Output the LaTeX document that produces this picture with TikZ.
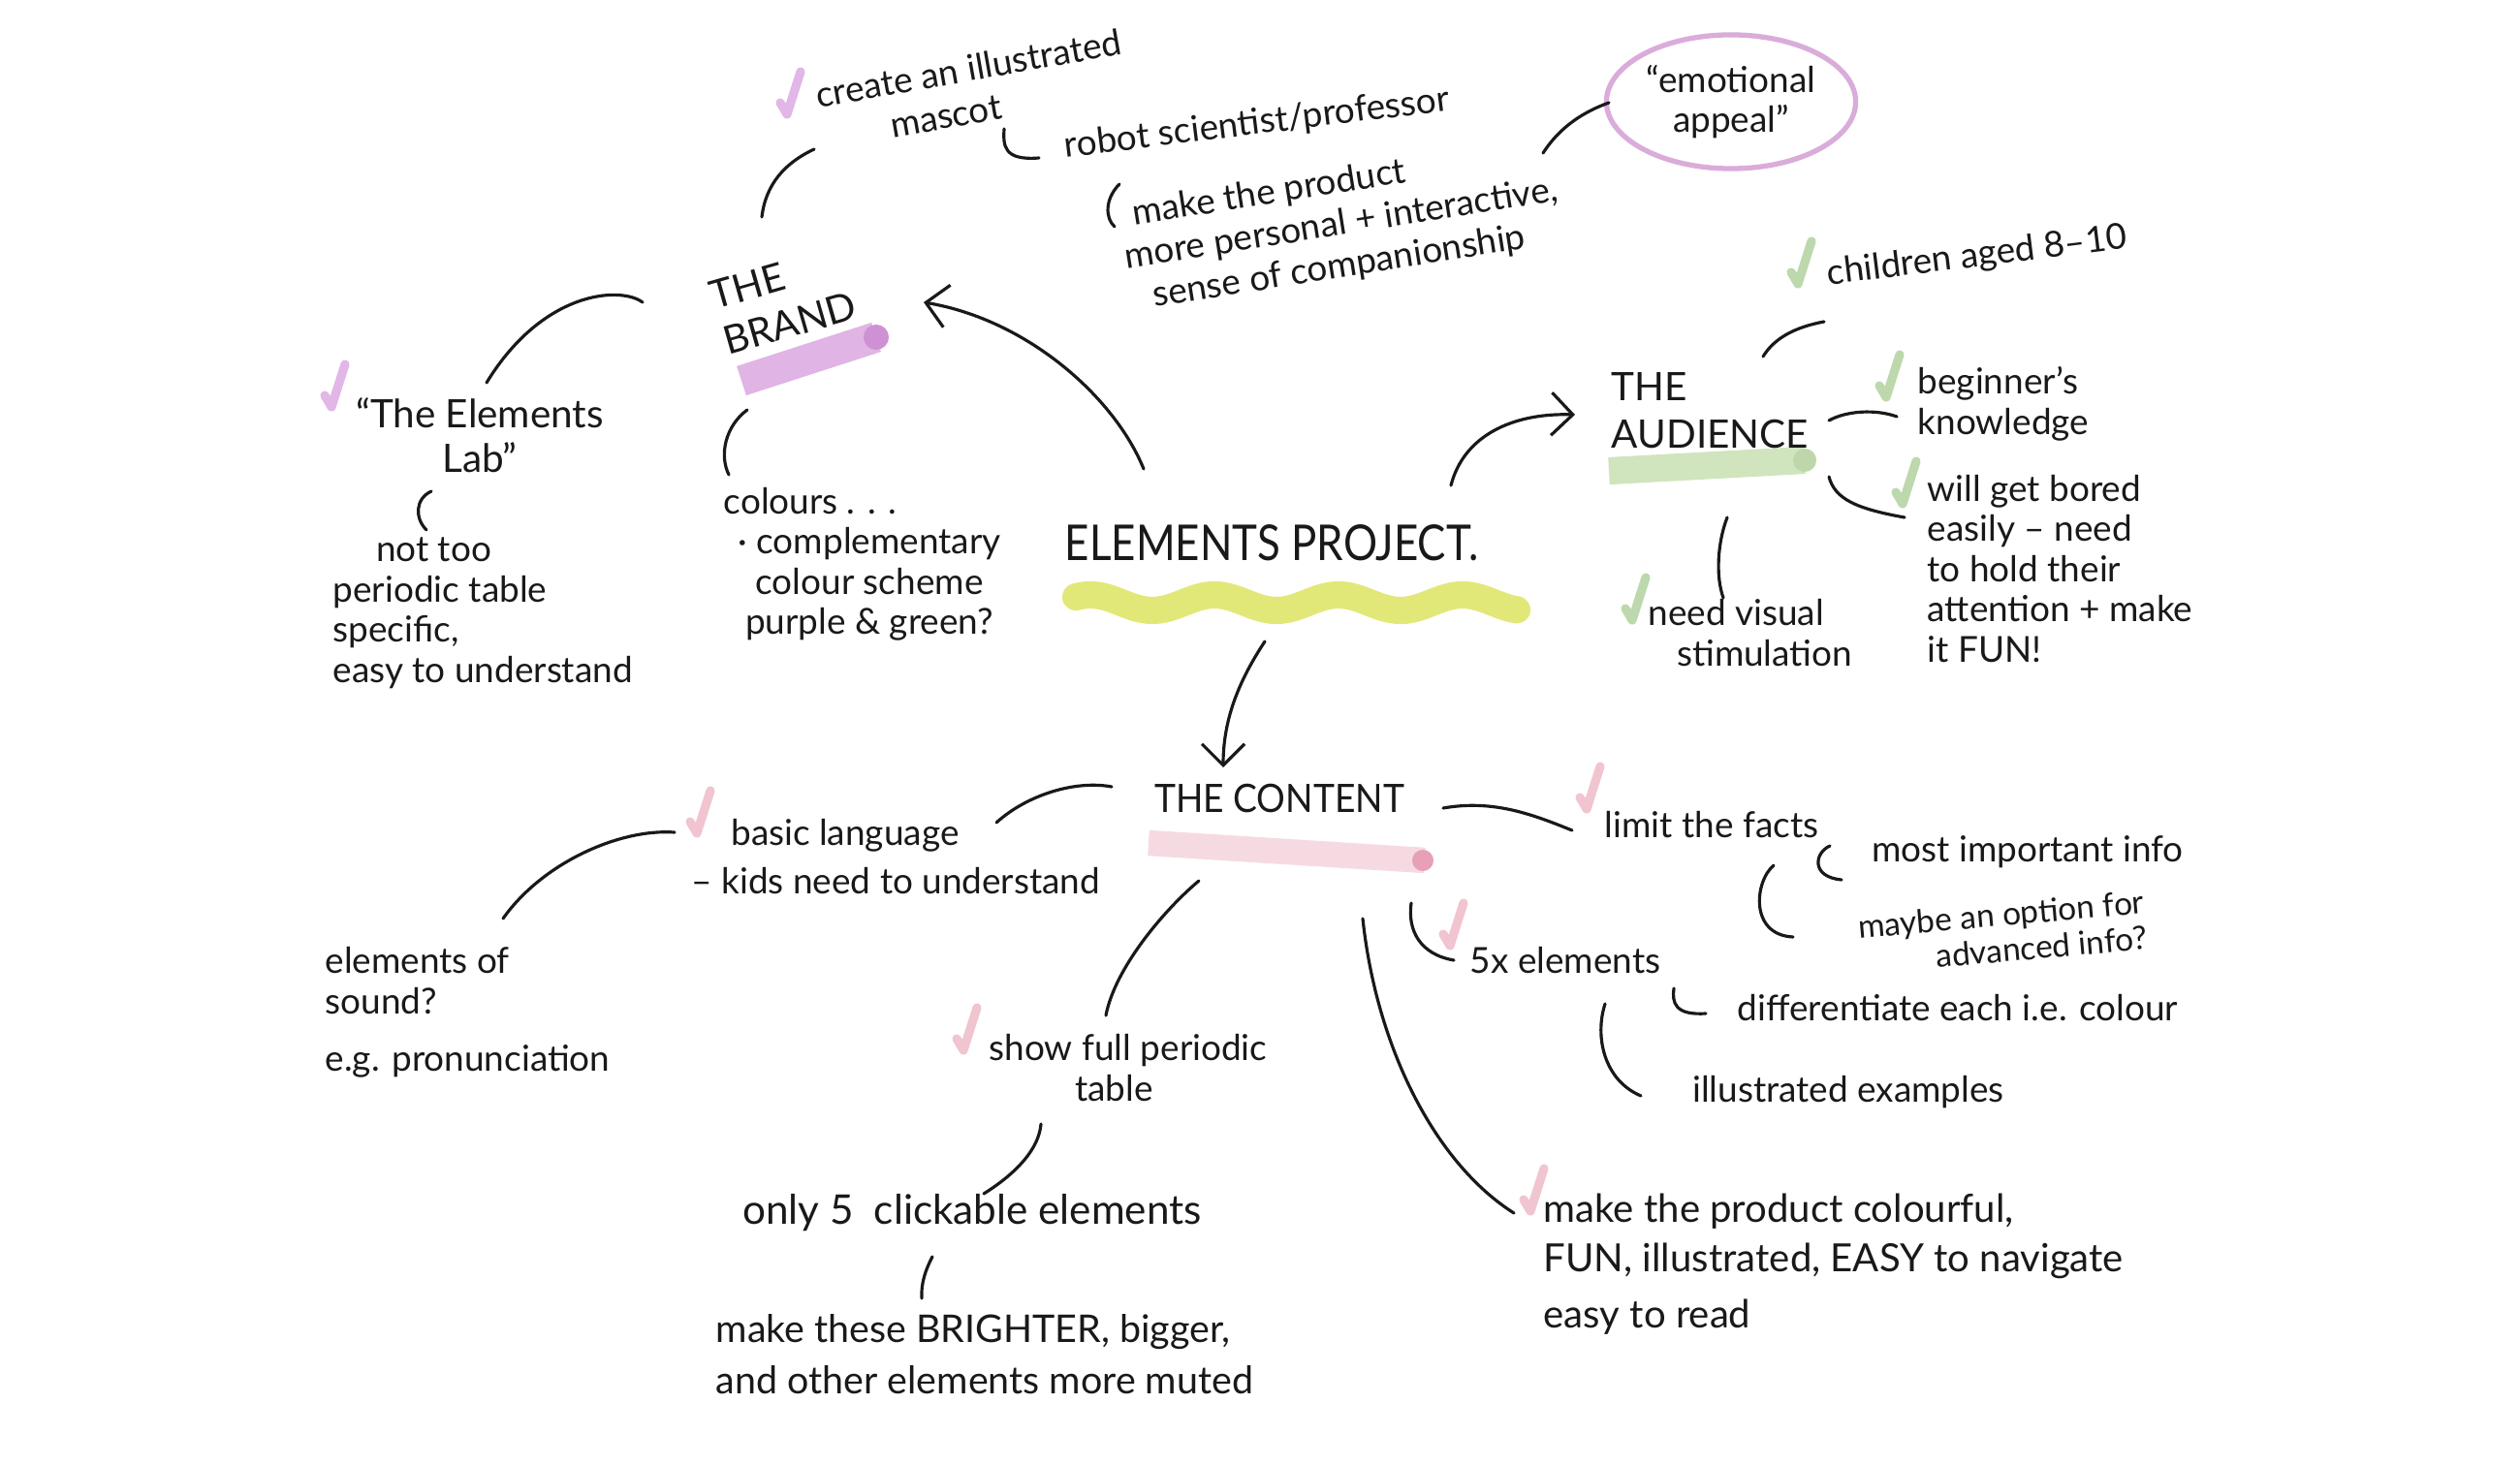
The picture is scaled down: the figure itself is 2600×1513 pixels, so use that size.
\documentclass[tikz,border=0pt]{standalone}
\usepackage{fontspec}
\setmainfont{Lato}
\usetikzlibrary{arrows.meta,shapes.geometric}
\definecolor{ink}{RGB}{25,25,25}
\definecolor{brandpink}{RGB}{224,180,228}
\definecolor{brandpinkdark}{RGB}{206,145,212}
\definecolor{audgreen}{RGB}{208,228,190}
\definecolor{audgreendark}{RGB}{190,215,170}
\definecolor{chkgreen}{RGB}{178,210,158}
\definecolor{contpink}{RGB}{246,218,226}
\definecolor{contpinkdark}{RGB}{232,160,182}
\definecolor{chkpink}{RGB}{238,188,200}
\definecolor{chkpurple}{RGB}{222,170,226}
\definecolor{yelhl}{RGB}{226,232,120}
\definecolor{emopink}{RGB}{218,172,218}
\tikzset{
  x=0.01cm, y=0.01cm,
  txt/.style={font=\fontsize{10.5}{11.8}\selectfont, text=ink, inner sep=0pt, align=left},
  head/.style={font=\fontsize{11.5}{14}\selectfont, text=ink, inner sep=0pt, align=left},
  conn/.style={draw=ink, line width=0.9pt, line cap=round},
  arr/.style={conn, -{Straight Barb[length=2.2mm,width=4.4mm]}},
  hl/.style={line width=#1, line cap=butt},
  emo/.style={txt, align=center, draw=emopink, line width=1.5pt, ellipse, minimum width=2.57cm, minimum height=1.38cm},
  tickmark/.pic={\draw[line width=2.6pt, line cap=round, line join=round, opacity=0.85] (-7,12) -- (0,0) -- (14,44);}
}
\begin{document}
\begin{tikzpicture}
\useasboundingbox (0,0) rectangle (2600,-1513);
\fill[white] (0,0) rectangle (2600,-1513);

% ---------- highlights ----------
\draw[yelhl, line width=8pt, line cap=round] plot[domain=1110:1565, samples=140, smooth] (\x, {-622 + 8*cos((\x-1125)/128*360)});
\draw[brandpink, hl=9pt] (765,-393) -- (904,-348);
\fill[brandpinkdark] (904,-348) circle (13);
\draw[audgreen, hl=8pt] (1660,-486) -- (1862,-475);
\fill[audgreendark] (1862,-475) circle (12);
\draw[contpink, hl=7.5pt] (1185,-870) -- (1470,-888);
\fill[contpinkdark] (1468,-888) circle (11);

% ---------- central node ----------
\node[font=\fontsize{14.5}{16}\selectfont, text=ink, inner sep=0pt, xscale=0.86] (center) at (1312,-560) {ELEMENTS PROJECT.};

% ---------- the brand ----------
\node[head, rotate=16] (brand) at (808,-310) {THE\\BRAND};
\node[txt, rotate=10, font=\fontsize{10.5}{12.5}\selectfont] (mascot) at (1003,-92) {create an illustrated\\\hspace*{1.9em}mascot};
\node[txt, rotate=7] (robot) at (1297,-128) {robot scientist/professor};
\node[txt, rotate=9, font=\fontsize{10.5}{12.3}\selectfont] (personal) at (1384,-232) {\hspace*{0.4em}make the product\\more personal + interactive,\\\hspace*{0.6em}sense of companionship};
\node[emo] (emo) at (1786,-105) {``emotional\\appeal''};
\node[txt, align=center, font=\fontsize{11.5}{13}\selectfont] (lab) at (495,-449) {``The Elements\\Lab''};
\node[txt, anchor=west] (nottoo) at (343,-633) {\hspace*{1.2em}not too\\periodic table\\specific,\\easy to understand};
\node[txt, anchor=west] (colours) at (746,-517) {colours . . .};
\node[txt, align=center] (scheme) at (897,-603) {· complementary\\colour scheme\\purple \& green?};

% ---------- the audience ----------
\node[head, anchor=west] (aud) at (1662,-424) {THE\\AUDIENCE};
\node[txt, rotate=7] (children) at (2040,-265) {children aged 8--10};
\node[txt, anchor=west] (beginner) at (1978,-417) {beginner's\\knowledge};
\node[txt, anchor=west] (bored) at (1988,-587) {will get bored\\easily -- need\\to hold their\\attention + make\\it FUN!};
\node[txt, anchor=west] (visual) at (1700,-653) {need visual\\\hspace*{0.8em}stimulation};

% ---------- the content ----------
\node[head, xscale=0.92] (content) at (1320,-824) {THE CONTENT};
\node[txt, anchor=west] (basic) at (713,-884) {\hspace*{1.1em}basic language\\[2.5pt]-- kids need to understand};
\node[txt, anchor=west] (sound) at (335,-1045) {elements of\\sound?\\[5pt]e.g. pronunciation};
\node[txt, anchor=west] (showfull) at (1020,-1102) {show full periodic\\\hspace*{2.4em}table};
\node[txt, font=\fontsize{12}{13}\selectfont] (only5) at (1003,-1252) {only 5\enspace clickable elements};
\node[txt, anchor=west, font=\fontsize{11.2}{13}\selectfont] (brighter) at (738,-1398) {make these BRIGHTER, bigger,\\[2pt]and other elements more muted};
\node[txt] (limit) at (1766,-851) {limit the facts};
\node[txt] (important) at (2092,-879) {most important info};
\node[txt, rotate=5, align=right, font=\fontsize{9.5}{10.5}\selectfont] (maybe) at (2066,-962) {maybe an option for\\advanced info?};
\node[txt] (fivex) at (1615,-991) {5x elements};
\node[txt] (differ) at (2020,-1040) {differentiate each i.e. colour};
\node[txt] (illus) at (1907,-1127) {illustrated examples};
\node[txt, anchor=west, font=\fontsize{11.4}{12.5}\selectfont] (colourful) at (1592,-1305) {make the product colourful,\\[2pt]FUN, illustrated, EASY to navigate\\[4pt]easy to read};

% ---------- tick marks ----------
\pic[color=chkpurple] at (812,-118) {tickmark};
\pic[color=chkpurple] at (342,-420) {tickmark};
\pic[color=chkgreen] at (1855,-293) {tickmark};
\pic[color=chkgreen] at (1946,-410) {tickmark};
\pic[color=chkgreen] at (1963,-520) {tickmark};
\pic[color=chkgreen] at (1684,-640) {tickmark};
\pic[color=chkpink] at (719,-860) {tickmark};
\pic[color=chkpink] at (994,-1084) {tickmark};
\pic[color=chkpink] at (1637,-835) {tickmark};
\pic[color=chkpink] at (1496,-976) {tickmark};
\pic[color=chkpink] at (1579,-1250) {tickmark};

% ---------- connector end points ----------
\coordinate (centerNW) at (1180,-484);
\coordinate (brandSE) at (953,-312);
\coordinate (centerNE) at (1497,-501);
\coordinate (audW) at (1625,-428);
\coordinate (centerS) at (1305,-662);
\coordinate (contentN) at (1262,-792);
\coordinate (brandN) at (786,-224);
\coordinate (mascotS) at (840,-154);
\coordinate (brandW) at (663,-312);
\coordinate (labN) at (502,-395);
\coordinate (brandS) at (771,-423);
\coordinate (coloursN) at (752,-490);
\coordinate (labS) at (445,-507);
\coordinate (nottooN) at (440,-547);
\coordinate (mascotE) at (1036,-133);
\coordinate (robotW) at (1072,-163);
\coordinate (robotS) at (1155,-190);
\coordinate (personalW) at (1150,-234);
\coordinate (personalE) at (1592,-158);
\coordinate (emoW) at (1660,-106);
\coordinate (audN) at (1819,-368);
\coordinate (childrenS) at (1882,-332);
\coordinate (audE) at (1887,-434);
\coordinate (beginnerW) at (1957,-430);
\coordinate (audSE) at (1887,-492);
\coordinate (boredW) at (1965,-534);
\coordinate (audS) at (1782,-534);
\coordinate (visualN) at (1778,-617);
\coordinate (contentW) at (1147,-812);
\coordinate (basicE) at (1028,-849);
\coordinate (basicW) at (696,-859);
\coordinate (soundN) at (519,-948);
\coordinate (contentSW) at (1237,-909);
\coordinate (showfullN) at (1141,-1048);
\coordinate (showfullS) at (1074,-1160);
\coordinate (only5N) at (1015,-1232);
\coordinate (only5S) at (962,-1297);
\coordinate (brighterN) at (951,-1340);
\coordinate (contentE) at (1489,-834);
\coordinate (limitW) at (1622,-857);
\coordinate (limitE1) at (1888,-873);
\coordinate (importantW) at (1900,-908);
\coordinate (limitE2) at (1830,-893);
\coordinate (maybeW) at (1850,-967);
\coordinate (contentSE) at (1456,-932);
\coordinate (fivexW) at (1500,-991);
\coordinate (fivexE) at (1727,-1020);
\coordinate (differW) at (1760,-1046);
\coordinate (fivexS) at (1656,-1036);
\coordinate (illusW) at (1693,-1131);
\coordinate (contentS) at (1406,-948);
\coordinate (colourfulW) at (1562,-1252);

% ---------- arrows from the centre ----------
\draw[arr] (centerNW) .. controls (1150,-410) and (1060,-330) .. (brandSE);
\draw[arr] (centerNE) .. controls (1510,-450) and (1560,-426) .. (audW);
\draw[arr] (centerS) .. controls (1280,-700) and (1262,-740) .. (contentN);

% ---------- brand connectors ----------
\draw[conn] (brandN) .. controls (790,-190) and (810,-168) .. (mascotS);
\draw[conn] (brandW) .. controls (640,-295) and (560,-300) .. (labN);
\draw[conn] (brandS) .. controls (748,-440) and (742,-470) .. (coloursN);
\draw[conn] (labS) .. controls (428,-515) and (428,-535) .. (nottooN);
\draw[conn] (mascotE) .. controls (1035,-150) and (1035,-166) .. (robotW);
\draw[conn] (robotS) .. controls (1140,-205) and (1140,-225) .. (personalW);
\draw[conn] (personalE) .. controls (1610,-130) and (1635,-115) .. (emoW);

% ---------- audience connectors ----------
\draw[conn] (audN) .. controls (1830,-350) and (1850,-338) .. (childrenS);
\draw[conn] (audE) .. controls (1905,-424) and (1935,-422) .. (beginnerW);
\draw[conn] (audSE) .. controls (1893,-515) and (1915,-525) .. (boredW);
\draw[conn] (audS) .. controls (1772,-560) and (1770,-595) .. (visualN);

% ---------- content connectors ----------
\draw[conn] (contentW) .. controls (1110,-805) and (1060,-820) .. (basicE);
\draw[conn] (basicW) .. controls (640,-855) and (560,-890) .. (soundN);
\draw[conn] (contentSW) .. controls (1200,-940) and (1150,-1000) .. (showfullN);
\draw[conn] (showfullS) .. controls (1072,-1185) and (1050,-1210) .. (only5N);
\draw[conn] (only5S) .. controls (955,-1310) and (950,-1325) .. (brighterN);
\draw[conn] (contentE) .. controls (1540,-825) and (1580,-840) .. (limitW);
\draw[conn] (limitE1) .. controls (1872,-880) and (1868,-905) .. (importantW);
\draw[conn] (limitE2) .. controls (1810,-910) and (1805,-965) .. (maybeW);
\draw[conn] (contentSE) .. controls (1452,-960) and (1465,-985) .. (fivexW);
\draw[conn] (fivexE) .. controls (1725,-1035) and (1728,-1048) .. (differW);
\draw[conn] (fivexS) .. controls (1645,-1070) and (1655,-1115) .. (illusW);
\draw[conn] (contentS) .. controls (1420,-1080) and (1480,-1200) .. (colourfulW);
\end{tikzpicture}
\end{document}
